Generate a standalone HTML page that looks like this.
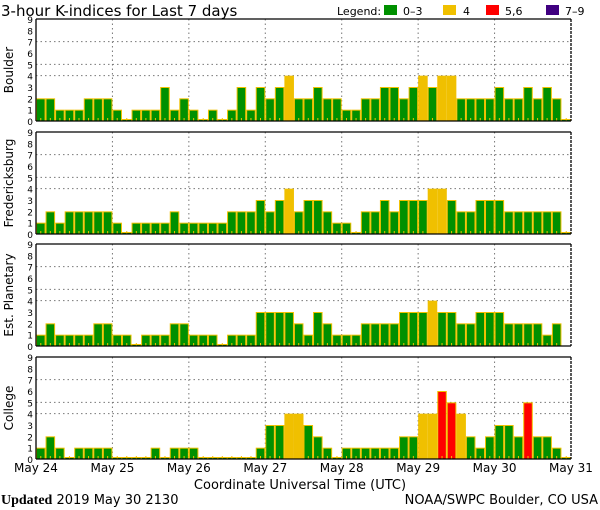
<!DOCTYPE html>
<html><head><meta charset="utf-8"><style>
body{margin:0;background:#fff;width:600px;height:510px;overflow:hidden}
svg{display:block;font-family:"DejaVu Sans","Liberation Sans",sans-serif}
</style></head><body>
<svg id="chart" width="600" height="510">
<text x="1" y="16" font-size="15">3-hour K-indices for Last 7 days</text>
<g font-size="11">
<text x="337" y="15">Legend:</text>
<rect x="384" y="5" width="13" height="10" fill="#009000"/>
<text x="403" y="15">0–3</text>
<rect x="443" y="5" width="13" height="10" fill="#f0c000"/>
<text x="463" y="15">4</text>
<rect x="486" y="5" width="13" height="10" fill="#ff0000"/>
<text x="505" y="15">5,6</text>
<rect x="546" y="5" width="13" height="10" fill="#400080"/>
<text x="565" y="15">7–9</text>
</g>
<text x="300" y="489" font-size="13" text-anchor="middle">Coordinate Universal Time (UTC)</text>
<text x="1" y="504" font-size="13"><tspan font-family="Liberation Serif,serif" font-weight="bold" font-size="14">Updated</tspan> 2019 May 30 2130</text>
<text x="598" y="504" font-size="13" text-anchor="end">NOAA/SWPC Boulder, CO USA</text>
</svg>
<script>
const stations = ["Boulder","Fredericksburg","Est. Planetary","College"];
const dayLabels = ["May 24","May 25","May 26","May 27","May 28","May 29","May 30","May 31"];
const yTicks = [0,1,2,3,4,5,6,7,8,9];
const boulder = [2,2,1,1,1,2,2,2, 1,0,1,1,1,3,1,2, 1,0,1,0,1,3,1,3, 2,3,4,2,2,3,2,2, 1,1,2,2,3,3,2,3, 4,3,4,4,2,2,2,2, 3,2,2,3,2,3,2,0];
const fredericksburg = [1,2,1,2,2,2,2,2, 1,0,1,1,1,1,2,1, 1,1,1,1,2,2,2,3, 2,3,4,2,3,3,2,1, 1,0,2,2,3,2,3,3, 3,4,4,3,2,2,3,3, 3,2,2,2,2,2,2,0];
const planetary = [1,2,1,1,1,1,2,2, 1,1,0,1,1,1,2,2, 1,1,1,0,1,1,1,3, 3,3,3,2,1,3,2,1, 1,1,2,2,2,2,3,3, 3,4,3,3,2,2,3,3, 3,2,2,2,2,1,2,null];
const college = [1,2,1,0,1,1,1,1, 0,0,0,0,1,0,1,1, 1,0,0,0,0,0,0,1, 3,3,4,4,3,2,1,0, 1,1,1,1,1,1,2,2, 4,4,6,5,4,2,1,2, 3,3,2,5,2,2,1,0];
const series = [boulder,fredericksburg,planetary,college];

const NS="http://www.w3.org/2000/svg";
const svg=document.getElementById('chart');
const X0=36,X1=571,N=56;
const tops=[19,132,244,357],H=102;
const bw=(X1-X0)/N;
const xs=i=>X0+i*bw;
function mk(t,a,p){const e=document.createElementNS(NS,t);for(const k in a)e.setAttribute(k,a[k]);(p||svg).appendChild(e);return e;}
function col(v){return v<=3?"#009000":v==4?"#f0c000":v<=6?"#ff0000":"#400080";}
function slug(s){return s.toLowerCase().replace(/[^a-z0-9]+/g,'-').replace(/-$/,'');}
stations.forEach((st,p)=>{
  const top=tops[p],bot=top+H;
  const ys=v=>bot-v*H/9;
  const g=mk('g',{});
  
  
  // grid
  [4,5,7].forEach(v=>{const l=mk('line',{x1:X0,x2:X1,y1:ys(v),y2:ys(v),stroke:'#777','stroke-dasharray':'1.5,3'},g);
    });
  for(let d=1;d<7;d++){const l=mk('line',{x1:xs(d*8),x2:xs(d*8),y1:top,y2:bot,stroke:'#777','stroke-dasharray':'1.5,3'},g);
    }
  // bars
  series[p].forEach((v,i)=>{
    if(v===null)return;
    const y=v>0?ys(v):bot-2;
    const r=mk('rect',{x:xs(i)+0.5,y:y+0.5,width:bw-1,height:bot-y-0.5,fill:col(v),stroke:'#f0c000','stroke-width':1},g);
    
    
    mk('rect',{x:xs(i)+bw/2-0.5,y:bot-3,width:1,height:3,fill:'#f0c000'},g);
  });
  // axes
  mk('line',{x1:X0,x2:X1,y1:top,y2:top,stroke:'#000','stroke-width':1.3},g);
  mk('line',{x1:X0,x2:X1,y1:bot,y2:bot,stroke:'#000','stroke-width':1.3},g);
  mk('line',{x1:X0,x2:X0,y1:top,y2:bot,stroke:'#000','stroke-width':1.3},g);
  mk('line',{x1:X1,x2:X1,y1:top,y2:bot,stroke:'#000','stroke-width':1.3,'stroke-dasharray':'3,1'},g);
  yTicks.forEach(v=>{const t=mk('text',{x:33,y:ys(v)+4,'font-size':9,'text-anchor':'end'},g);t.textContent=v;
    });
  const lab=mk('text',{x:0,y:0,'font-size':12,'text-anchor':'middle',transform:`translate(13,${top+H/2}) rotate(-90)`},g);
  lab.textContent=st;
  
  
});
dayLabels.forEach((d,i)=>{
  const t=mk('text',{x:xs(i*8),y:472,'font-size':12,'text-anchor':'middle'});
  t.textContent=d;
  
  
});
</script>
</body></html>
